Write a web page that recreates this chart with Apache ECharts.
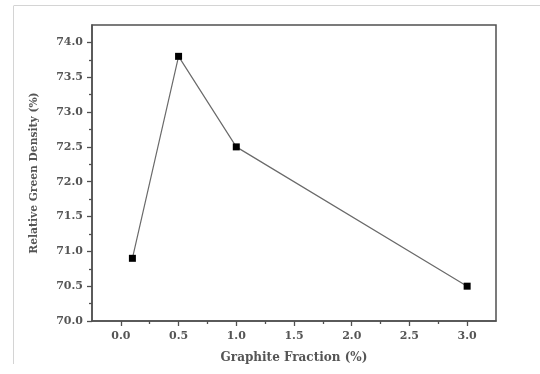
<!DOCTYPE html>
<html>
<head>
<meta charset="utf-8">
<script src="https://cdn.jsdelivr.net/npm/echarts@6/dist/echarts.min.js"></script>
<style>
  html, body { margin: 0; padding: 0; background: #fff; }
  #chart { width: 540px; height: 374px; }
</style>
</head>
<body>
<div id="chart"></div>
<script>
// data
const graphiteFraction = [0.1, 0.5, 1.0, 3.0]
const greenDensity = [70.9, 73.8, 72.5, 70.5]

// tick labels
const xMajorTicks = [0, 0.5, 1.0, 1.5, 2.0, 2.5, 3.0]
const xMinorTicks = [0.25, 0.75, 1.25, 1.75, 2.25, 2.75]
const yMajorTicks = [70, 70.5, 71, 71.5, 72, 72.5, 73, 73.5, 74]
const yMinorTicks = [70.25, 70.75, 71.25, 71.75, 72.25, 72.75, 73.25, 73.75]

const axisColor = '#505050'
const textColor = '#555'
const font = 'DejaVu Serif'

const chart = echarts.init(document.getElementById('chart'))

const majorAxis = (extra) => Object.assign({
  type: 'value',
  axisLine: { show: true, onZero: false, lineStyle: { color: axisColor, width: 1.5 } },
  splitLine: { show: false },
  nameLocation: 'middle',
}, extra)

const minorAxis = (extra) => Object.assign({
  type: 'value',
  axisLine: { show: false, onZero: false },
  axisLabel: { show: false },
  splitLine: { show: false },
}, extra)

const tickStyle = { color: axisColor, width: 1.3 }

chart.setOption({
  backgroundColor: '#fff',
  animation: false,
  grid: {
    left: 92, right: 44, top: 25, bottom: 53,
    show: true, borderColor: axisColor, borderWidth: 1.5,
  },
  graphic: [
    { type: 'line', shape: { x1: 14, y1: 5.5, x2: 540, y2: 5.5 }, style: { stroke: '#d4d4d4', lineWidth: 1 } },
    { type: 'line', shape: { x1: 13.5, y1: 5.5, x2: 13.5, y2: 364 }, style: { stroke: '#d4d4d4', lineWidth: 1 } },
  ],
  xAxis: [
    majorAxis({
      min: -0.25, max: 3.25,
      name: 'Graphite Fraction (%)', nameGap: 31,
      nameTextStyle: { color: textColor, fontFamily: font, fontSize: 12, fontWeight: 'bold' },
      axisTick: { show: true, customValues: xMajorTicks, length: 5, lineStyle: tickStyle },
      axisLabel: {
        customValues: xMajorTicks, margin: 10,
        formatter: (v) => v.toFixed(1),
        color: textColor, fontFamily: font, fontSize: 11, fontWeight: 'bold',
      },
    }),
    minorAxis({
      min: -0.25, max: 3.25, position: 'bottom',
      axisTick: { show: true, customValues: xMinorTicks, length: 3, lineStyle: tickStyle },
    }),
  ],
  yAxis: [
    majorAxis({
      min: 70, max: 74.25,
      name: 'Relative Green Density (%)', nameGap: 52,
      nameTextStyle: { color: textColor, fontFamily: font, fontSize: 10.7, fontWeight: 'bold' },
      axisTick: { show: true, customValues: yMajorTicks, length: 5, lineStyle: tickStyle },
      axisLabel: {
        customValues: yMajorTicks, margin: 9,
        formatter: (v) => v.toFixed(1),
        color: textColor, fontFamily: font, fontSize: 11, fontWeight: 'bold',
      },
    }),
    minorAxis({
      min: 70, max: 74.25, position: 'left',
      axisTick: { show: true, customValues: yMinorTicks, length: 3, lineStyle: tickStyle },
    }),
  ],
  series: [
    {
      type: 'line',
      xAxisIndex: 0,
      yAxisIndex: 0,
      data: graphiteFraction.map((x, i) => [x, greenDensity[i]]),
      symbol: 'rect',
      symbolSize: 7,
      itemStyle: { color: '#000' },
      lineStyle: { color: '#6a6a6a', width: 1.2 },
    },
  ],
})
</script>
</body>
</html>
